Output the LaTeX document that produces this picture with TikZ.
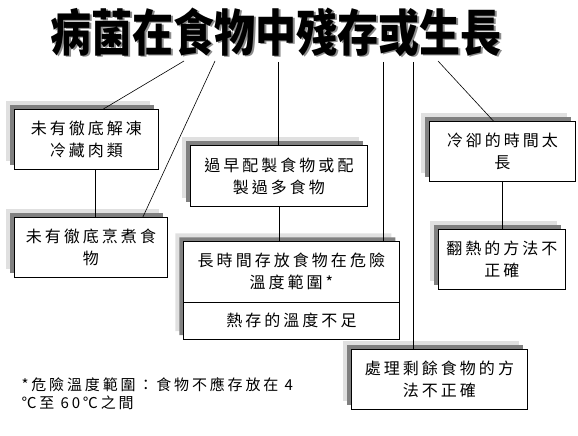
\documentclass[tikz,border=0pt]{standalone}
\usepackage{fontspec}
\newfontfamily\cjk[LetterSpace=19]{Noto Sans CJK TC}
\newfontfamily\cjktitle{Noto Sans CJK TC}
\usetikzlibrary{shadows,shapes.multipart}

\begin{document}
\begin{tikzpicture}[
      x=1pt, y=-1pt,
      every node/.style={font=\cjk\fontsize{16}{22}\selectfont},
      boxed/.style={rectangle, draw=black, line width=0.8pt, fill=white, inner sep=0pt, anchor=north west,
        general shadow={fill=black!12, shadow xshift=-8pt, shadow yshift=8pt},
        general shadow={fill=black!50, shadow xshift=-4pt, shadow yshift=4pt}},
      cause/.style={boxed, align=center},
      headline/.style={font=\cjktitle\bfseries\fontsize{41}{41}\selectfont, inner sep=0pt},
      link/.style={line width=0.6pt}
  ]
    \useasboundingbox (0,0) rectangle (578,436);

    % title with its shadow
    \node[headline, text=black!45] (shade) at (277.5,33.5) {\scalebox{1}[1.22]{病菌在食物中殘存或生長}};
    \node[headline] (title) at (276,32) {\scalebox{1}[1.22]{病菌在食物中殘存或生長}};
    \coordinate (food) at (184,61);
    \coordinate (thing) at (215,61);
    \coordinate (mid) at (278,62);
    \coordinate (keep) at (383,62);
    \coordinate (orr) at (413,62);
    \coordinate (grow) at (438,61);

    % causes
    \node[cause, minimum width=144, minimum height=60] (thaw) at (14,109) {未有徹底解凍\\冷藏肉類};
    \node[cause, minimum width=153, minimum height=60] (undercook) at (14,217) {未有徹底烹煮食\\物};
    \node[cause, minimum width=177, minimum height=61] (early) at (190,145) {過早配製食物或配\\製過多食物};
    \node[boxed, rectangle split, rectangle split parts=2] (store) at (183,241)
      {\parbox[c][60pt][c]{216pt}{\centering 長時間存放食物在危險\\溫度範圍*}
       \nodepart{two}\parbox[c][36pt][c]{216pt}{\centering 熱存的溫度不足}};
    \node[cause, minimum width=146, minimum height=60] (cool) at (429,121) {冷卻的時間太\\長};
    \node[cause, minimum width=127, minimum height=60] (reheat) at (438,229) {翻熱的方法不\\正確};
    \node[cause, minimum width=176, minimum height=60] (leftover) at (351,349) {處理剩餘食物的方\\法不正確};

    \node[font=\cjk\fontsize{15}{18}\selectfont, align=left, anchor=west] (note) at (18,394)
      {*危險溫度範圍：食物不應存放在 4\\℃至 60℃之間};

    \draw[link] (food) -- ([xshift=17]thaw.north);
    \draw[link] (thing) -- ([xshift=52]undercook.north);
    \draw[link] (mid) -- (mid |- early.north);
    \draw[link] (early.south) -- (early.south |- store.north);
    \draw[link] (keep) -- (keep |- store.north);
    \draw[link] (orr) -- (orr |- leftover.north);
    \draw[link] (grow) -- ([xshift=-9]cool.north);
    \draw[link] ([xshift=9]thaw.south) -- ([xshift=9]thaw.south |- undercook.north);
    \draw[link] (cool.south) -- (cool.south |- reheat.north);
  \end{tikzpicture}
\end{document}
